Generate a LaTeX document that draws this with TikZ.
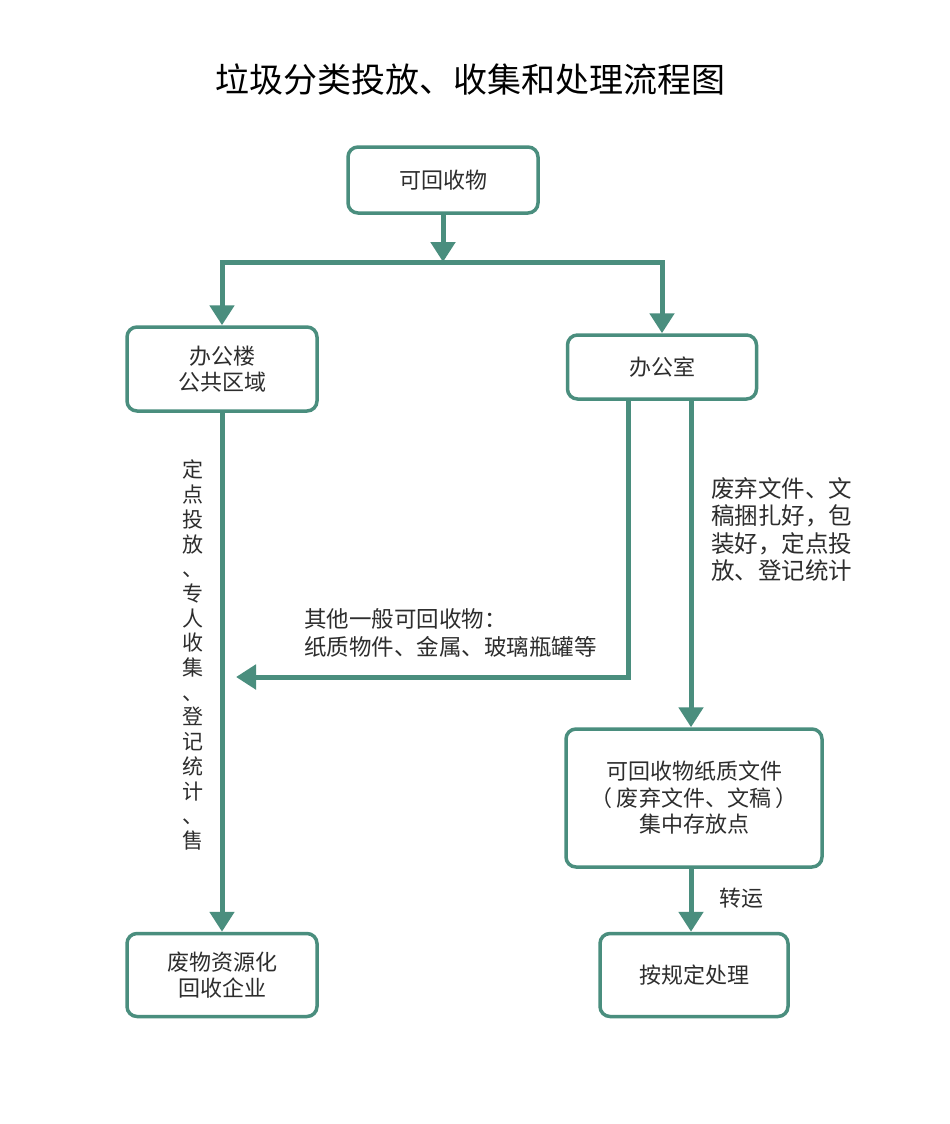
\documentclass[tikz,border=0pt]{standalone}
\usepackage{fontspec}
\setmainfont{Noto Sans CJK SC}
\usetikzlibrary{arrows.meta}
\definecolor{teal1}{RGB}{74,142,126}
\definecolor{txt}{RGB}{45,45,45}
\tikzset{
  box/.style={draw=teal1, line width=3.5pt, rounded corners=10pt, fill=white,
    align=center, text=txt, font=\fontsize{22}{26.5}\selectfont, inner sep=0pt},
  conn/.style={draw=teal1, line width=5pt},
  arr/.style={conn, -{Triangle[width=24pt,length=20pt]}},
  lbl/.style={text=txt, align=left, inner sep=0pt, font=\fontsize{23.5}{27.5}\selectfont},
}
\begin{document}
\begin{tikzpicture}[x=1pt,y=-1pt]
\useasboundingbox[fill=white] (0,0) rectangle (950,1124);
\node[text=black, inner sep=0pt, font=\fontsize{34}{36}\selectfont] (title) at (470,80) {垃圾分类投放、收集和处理流程图};

\node[box, minimum width=190pt, minimum height=66pt] (b1) at (443,180) {可回收物};
\node[box, minimum width=190pt, minimum height=84pt] (b2) at (222,369) {办公楼\\公共区域};
\node[box, minimum width=189pt, minimum height=64pt] (b3) at (662,367) {办公室};
\node[box, minimum width=190pt, minimum height=83pt] (b4) at (222,975) {废物资源化\\回收企业};
\node[box, minimum width=256pt, minimum height=138pt] (b5) at (694,798) {可回收物纸质文件\\（ 废弃文件、文稿 ）\\集中存放点};
\node[box, minimum width=188pt, minimum height=83pt] (b6) at (694,975) {按规定处理};

\coordinate (j) at (443,262);
\coordinate (o1) at (628,399);
\coordinate (o2) at (691,399);
\coordinate (lt) at (236,677);

\draw[arr] (b1.south) -- (j);
\draw[arr] (j) -| (b2.north);
\draw[arr] (j) -| (b3.north);
\draw[arr] (b2.south) -- (b4.north);
\draw[arr] (o1) |- (lt);
\draw[arr] (o2) -- (o2 |- b5.north);
\draw[arr] (b5.south -| o2) -- (b6.north -| o2);

\node[text=txt, inner sep=0pt, align=center, font=\fontsize{21}{24.7}\selectfont, anchor=north] (vt) at (193,460)
  {定\\点\\投\\放\\、\\专\\人\\收\\集\\、\\登\\记\\统\\计\\、\\售};
\node[lbl, anchor=north west] (l1) at (711,477) {废弃文件、文\\稿捆扎好，包\\装好，定点投\\放、登记统计};
\node[lbl, font=\fontsize{22.5}{28}\selectfont, anchor=north west] (l2) at (304,608) {其他一般可回收物：\\纸质物件、金属、玻璃瓶罐等};
\node[lbl, font=\fontsize{22}{27}\selectfont, anchor=west] (l3) at (719,898) {转运};
\end{tikzpicture}
\end{document}
